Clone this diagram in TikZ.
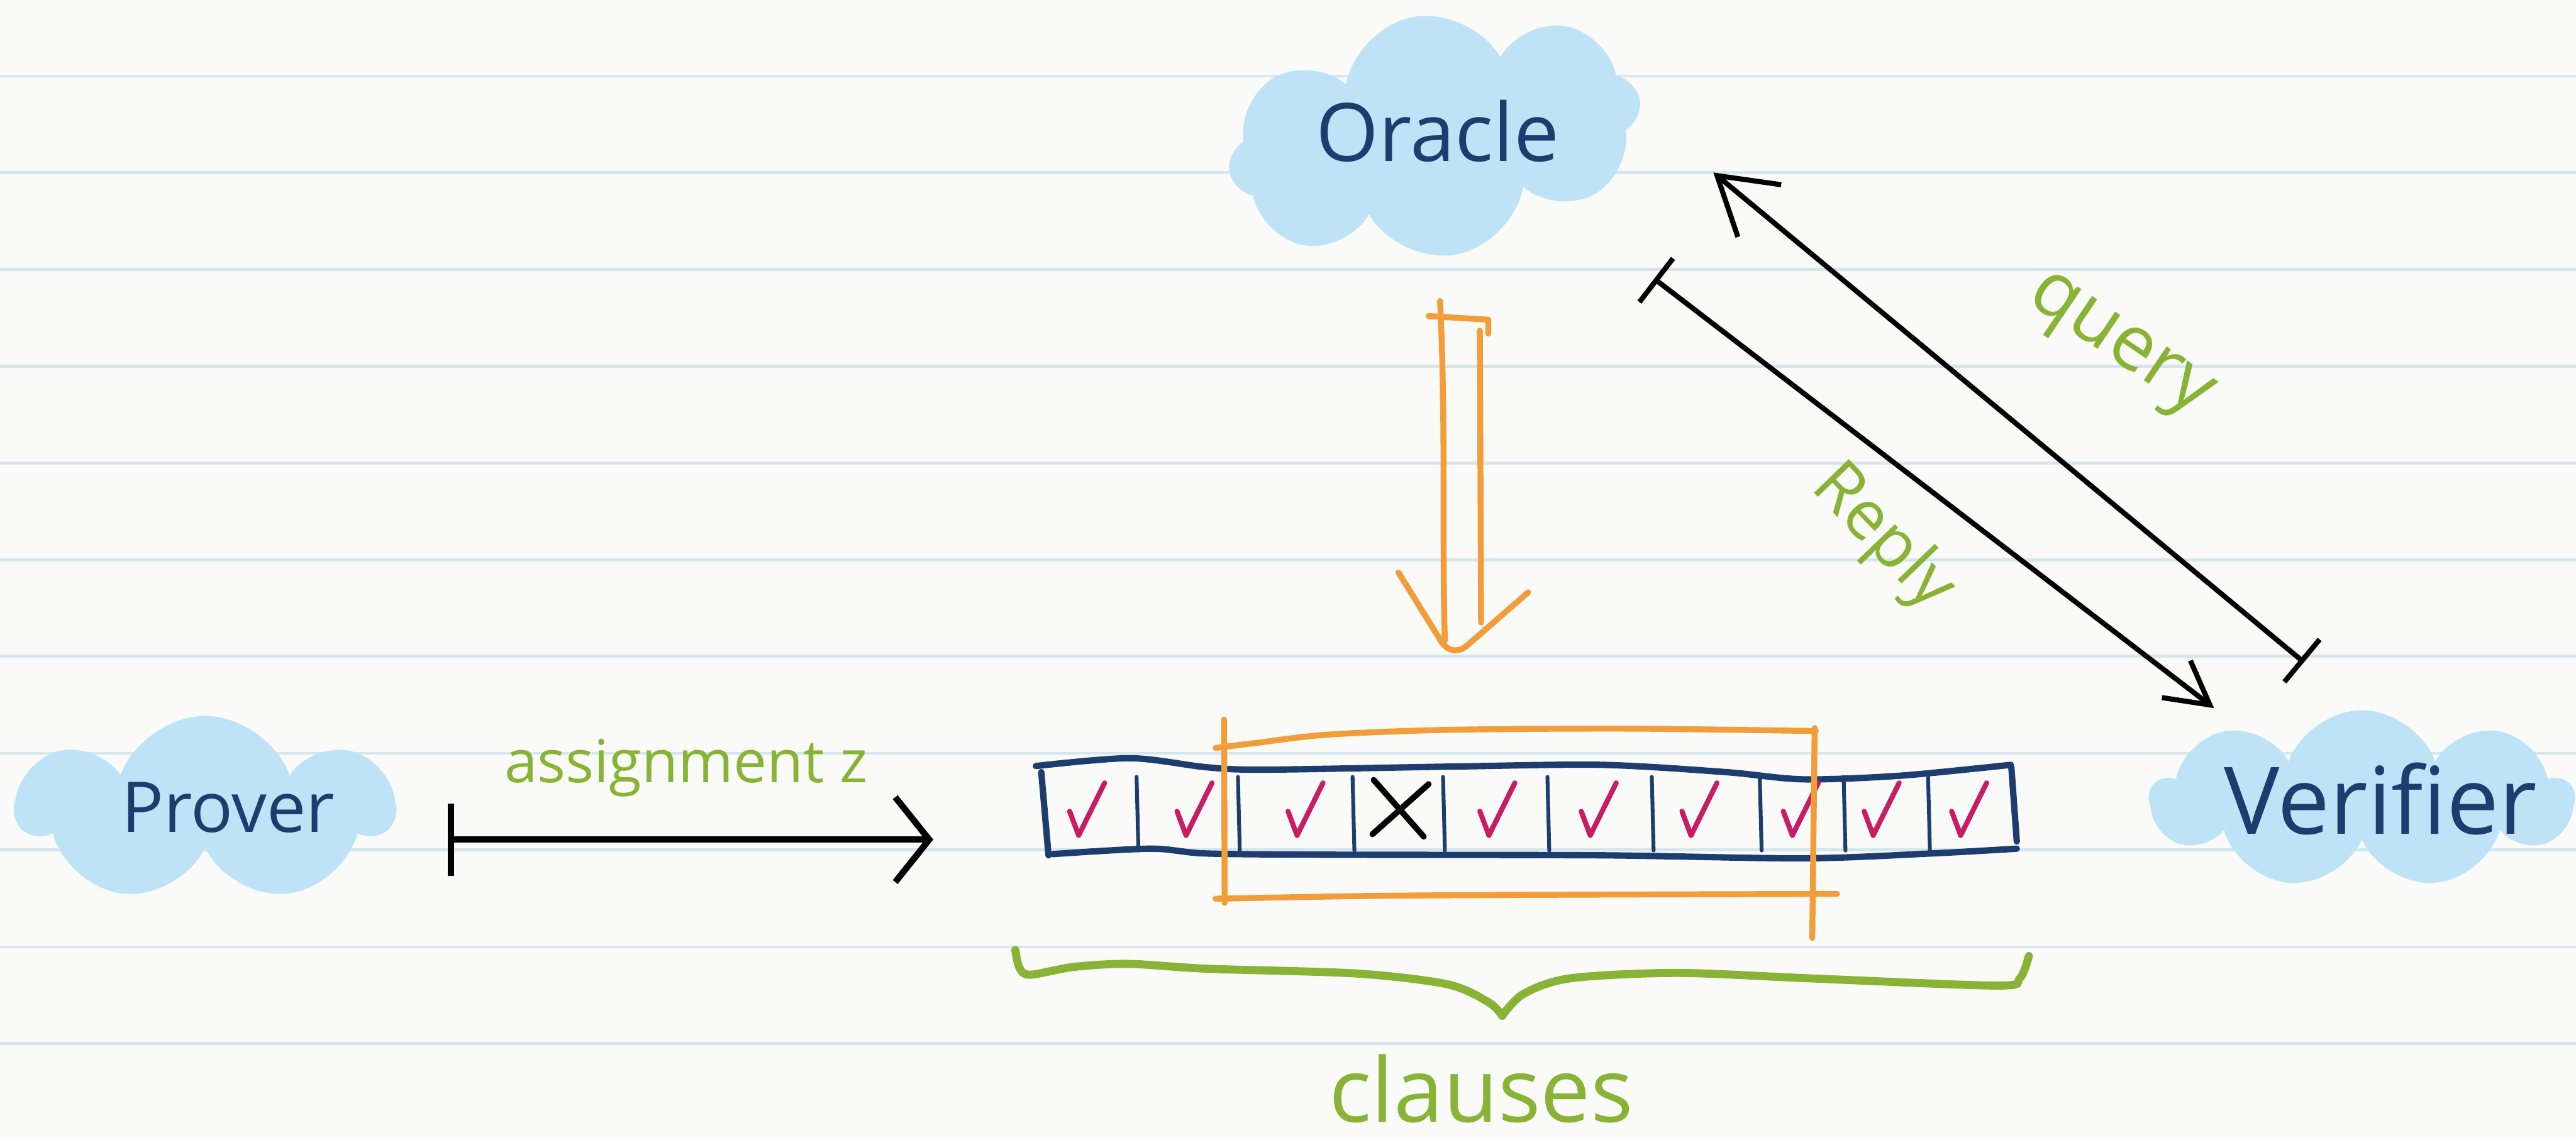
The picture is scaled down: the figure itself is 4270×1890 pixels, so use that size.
\documentclass[tikz,border=0pt]{standalone}
\usepackage{fontspec}
\setmainfont{Open Sans}
\usetikzlibrary{shapes.symbols,arrows.meta}
\definecolor{paper}{HTML}{FAFAF8}
\definecolor{rulec}{HTML}{D6E6EE}
\definecolor{cloudc}{HTML}{BEE3F6}
\definecolor{navy}{HTML}{1D3D6E}
\definecolor{orng}{HTML}{F29D3A}
\definecolor{grn}{HTML}{89B334}
\definecolor{pinkc}{HTML}{C81D65}
\tikzset{
  rulestyle/.style={rulec, line width=1.4pt},
  cloudbg/.style={cloud, cloud puffs=7, cloud puff arc=140, cloud ignores aspect, fill=cloudc, draw=none, inner sep=0pt},
  actor/.style={text=navy, anchor=base, inner sep=0pt},
  glabel/.style={text=grn, inner sep=0pt},
  blk/.style={black, line width=2.4pt, line cap=round, line join=round},
  orngline/.style={orng, line width=2.8pt, line cap=round, line join=round},
  rowline/.style={navy, line width=3pt, line cap=round, line join=round},
  divline/.style={navy, line width=1.8pt, line cap=round},
  chk/.style={pinkc, line width=2.4pt, line cap=round, line join=round},
  xmark/.style={black, line width=2.8pt, line cap=round},
  bracestyle/.style={grn, line width=3.8pt, line cap=round, line join=round}
}
\begin{document}
\begin{tikzpicture}[x=0.01cm, y=-0.01cm]
\fill[paper] (0,0) rectangle (4270,1890);
\useasboundingbox (0,0) rectangle (4270,1890);
\foreach \yy in {126,286,447,607,768,928,1088,1249,1409,1570,1730}
  \draw[rulestyle] (0,\yy) -- (4270,\yy);

% clouds
\node[cloudbg, cloud puffs=8, minimum width=6.9cm, minimum height=4.0cm, rotate=10] (oraclebg) at (2378,225) {};
\node[cloudbg, minimum width=6.2cm, minimum height=3.1cm] (proverbg) at (340,1342) {};
\node[cloudbg, cloud puffs=9, minimum width=7.0cm, minimum height=2.95cm] (verifierbg) at (3915,1325) {};

% actor labels
\node[actor, font=\fontsize{38}{40}\selectfont] (oracle) at (2383,267) {Oracle};
\node[actor, font=\fontsize{33}{36}\selectfont] (prover) at (378,1380) {Prover};
\node[actor, font=\fontsize{44}{46}\selectfont] (verifier) at (3946,1383) {Verifier};

% clause row
\draw[rowline] plot[smooth] coordinates {(1717,1270) (1873,1257) (2000,1272) (2096,1276) (2400,1271) (2654,1268) (2860,1280) (2989,1292) (3150,1286) (3333,1268)};
\draw[rowline] plot[smooth] coordinates {(1745,1416) (1907,1407) (2000,1415) (2208,1417) (2654,1418) (2989,1423) (3200,1415) (3343,1407)};
\draw[rowline] (1726,1280) -- (1738,1418);
\draw[rowline] (3334,1272) -- (3343,1395);
\foreach \dx in {1884,2052,2242,2392,2565,2738,2917,3056,3196}
  \draw[divline] (\dx,1288) -- ({\dx+3},1410);
\foreach \L in {1773,1951,2135,2453,2621,2788,2956,3090,3235}
  \draw[chk] (\L,1345) -- ({\L+15},1385) -- ({\L+58},1298);
\draw[xmark] (2277,1293) -- (2360,1387);
\draw[xmark] (2368,1300) -- (2275,1383);
\node[inner sep=0pt, minimum width=16.2cm, minimum height=1.5cm] (row) at (2530,1342) {};

% orange window
\draw[orngline] plot[smooth] coordinates {(2015,1240) (2080,1232) (2200,1218) (2400,1210) (2700,1208) (3010,1212)};
\draw[orngline] (2029,1193) -- (2030,1497);
\draw[orngline] plot[smooth] coordinates {(2015,1490) (2300,1485) (2700,1483) (3045,1482)};
\draw[orngline] (3008,1207) -- (3004,1555);

% orange arrow from oracle
\draw[orngline] (2368,524) -- (2467,530) -- (2467,553);
\draw[orngline] (2387,499) .. controls (2397,700) and (2390,900) .. (2395,1062);
\draw[orngline] (2453,548) -- (2455,1032);
\draw[orngline] (2318,949) -- (2388,1062) .. controls (2400,1082) and (2418,1082) .. (2432,1070) -- (2533,982);

% assignment arrow
\coordinate (asgS) at (742,1392);
\coordinate (asgE) at (1547,1392);
\draw[blk, line width=3pt, {Bar[width=34pt]}-{Straight Barb[length=16pt,width=40pt]}] (asgS) -- (asgE);
\node[glabel, anchor=base, font=\fontsize{28}{30}\selectfont] (asglbl) at (1137,1297) {assignment z};

% query / reply arrows
\coordinate (qTip) at (2840,286);
\coordinate (qEnd) at (3819,1098);
\draw[blk, {Straight Barb[length=26pt,width=32pt]}-{Bar[width=26pt]}] (qTip) -- (qEnd);
\coordinate (rS) at (2742,462);
\coordinate (rE) at (3670,1174);
\draw[blk, {Bar[width=26pt]}-{Straight Barb[length=20pt,width=22pt]}] (rS) -- (rE);
\node[glabel, rotate=-34, font=\fontsize{36}{38}\selectfont] (querylbl) at (3510,578) {query};
\node[glabel, rotate=-46, font=\fontsize{32}{34}\selectfont] (replylbl) at (3120,892) {Reply};

% brace and clauses
\draw[bracestyle] plot[smooth] coordinates {(1683,1575) (1690,1605) (1708,1616) (1780,1603) (1871,1598) (2000,1606) (2249,1614) (2400,1632) (2468,1662) (2490,1684)};
\draw[bracestyle] plot[smooth] coordinates {(2490,1684) (2525,1648) (2602,1622) (2779,1613) (3000,1622) (3310,1634) (3348,1622) (3363,1585)};
\node[glabel, anchor=base, font=\fontsize{42}{44}\selectfont] (clauses) at (2455,1860) {clauses};
\end{tikzpicture}
\end{document}
